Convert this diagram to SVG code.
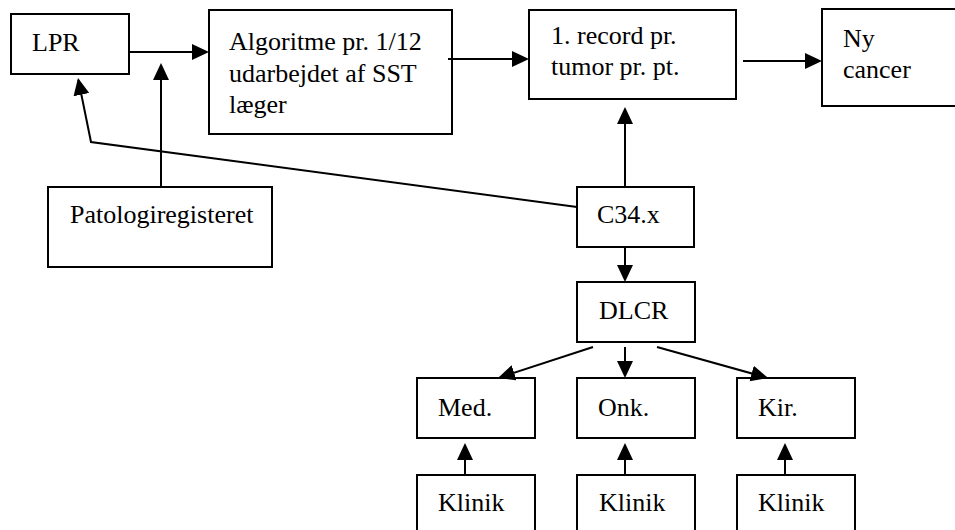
<svg xmlns="http://www.w3.org/2000/svg" width="955" height="530" viewBox="0 0 955 530">
<style>
  .box { fill: #ffffff; stroke: #000000; stroke-width: 2; }
  .lbl { font-family: "Liberation Serif", "Times New Roman", serif; font-size: 26px; fill: #000000; }
  .con { fill: none; stroke: #000000; stroke-width: 2; }
  .arr { marker-end: url(#ah); }
</style>
<defs>
  <marker id="ah" markerUnits="userSpaceOnUse" markerWidth="18" markerHeight="18" refX="15" refY="8" orient="auto">
    <path d="M0,0 L17,8 L0,16 Z" fill="#000000"/>
  </marker>
</defs>
<rect width="955" height="530" fill="#ffffff"/>

<g id="lpr">
  <rect class="box" x="11" y="14" width="118" height="60"/>
  <text class="lbl" x="32" y="51">LPR</text>
</g>
<g id="algoritme">
  <rect class="box" x="209" y="10" width="243" height="124"/>
  <text class="lbl" x="229" y="50">Algoritme pr. 1/12</text>
  <text class="lbl" x="229" y="82">udarbejdet af SST</text>
  <text class="lbl" x="229" y="113">læger</text>
</g>
<g id="record">
  <rect class="box" x="529" y="10" width="207" height="89"/>
  <text class="lbl" x="551" y="44">1. record pr.</text>
  <text class="lbl" x="551" y="75">tumor pr. pt.</text>
</g>
<g id="nycancer">
  <rect class="box" x="822" y="9" width="145" height="97"/>
  <text class="lbl" x="843" y="47">Ny</text>
  <text class="lbl" x="843" y="78">cancer</text>
</g>
<g id="patologi">
  <rect class="box" x="48" y="187" width="224" height="80"/>
  <text class="lbl" x="70" y="223">Patologiregisteret</text>
</g>
<g id="c34x">
  <rect class="box" x="577" y="187" width="117" height="60"/>
  <text class="lbl" x="597" y="223">C34.x</text>
</g>
<g id="dlcr">
  <rect class="box" x="577" y="282" width="118" height="60"/>
  <text class="lbl" x="599" y="319">DLCR</text>
</g>
<g id="med">
  <rect class="box" x="417" y="378" width="118" height="60"/>
  <text class="lbl" x="438" y="416">Med.</text>
</g>
<g id="onk">
  <rect class="box" x="577" y="378" width="118" height="60"/>
  <text class="lbl" x="598" y="416">Onk.</text>
</g>
<g id="kir">
  <rect class="box" x="737" y="378" width="118" height="60"/>
  <text class="lbl" x="758" y="416">Kir.</text>
</g>
<g id="klinik-med">
  <rect class="box" x="417" y="475" width="118" height="70"/>
  <text class="lbl" x="438" y="511">Klinik</text>
</g>
<g id="klinik-onk">
  <rect class="box" x="577" y="475" width="118" height="70"/>
  <text class="lbl" x="599" y="511">Klinik</text>
</g>
<g id="klinik-kir">
  <rect class="box" x="737" y="475" width="118" height="70"/>
  <text class="lbl" x="758" y="511">Klinik</text>
</g>

<g id="connectors">
  <path class="con arr" d="M129,52 H207"/>
  <path class="con arr" d="M161,187 V65"/>
  <path class="con arr" d="M577,207 L91,142 L78.4,80"/>
  <path class="con arr" d="M448,59 H527"/>
  <path class="con arr" d="M743,61 H820"/>
  <path class="con arr" d="M625,187 V109"/>
  <path class="con arr" d="M625,247 V280"/>
  <path class="con arr" d="M593,347 L499.9,377.4"/>
  <path class="con arr" d="M625,347 V376"/>
  <path class="con arr" d="M657,347 L766.1,377.5"/>
  <path class="con arr" d="M465,475 V445"/>
  <path class="con arr" d="M625,475 V445"/>
  <path class="con arr" d="M785,475 V445"/>
</g>
</svg>
